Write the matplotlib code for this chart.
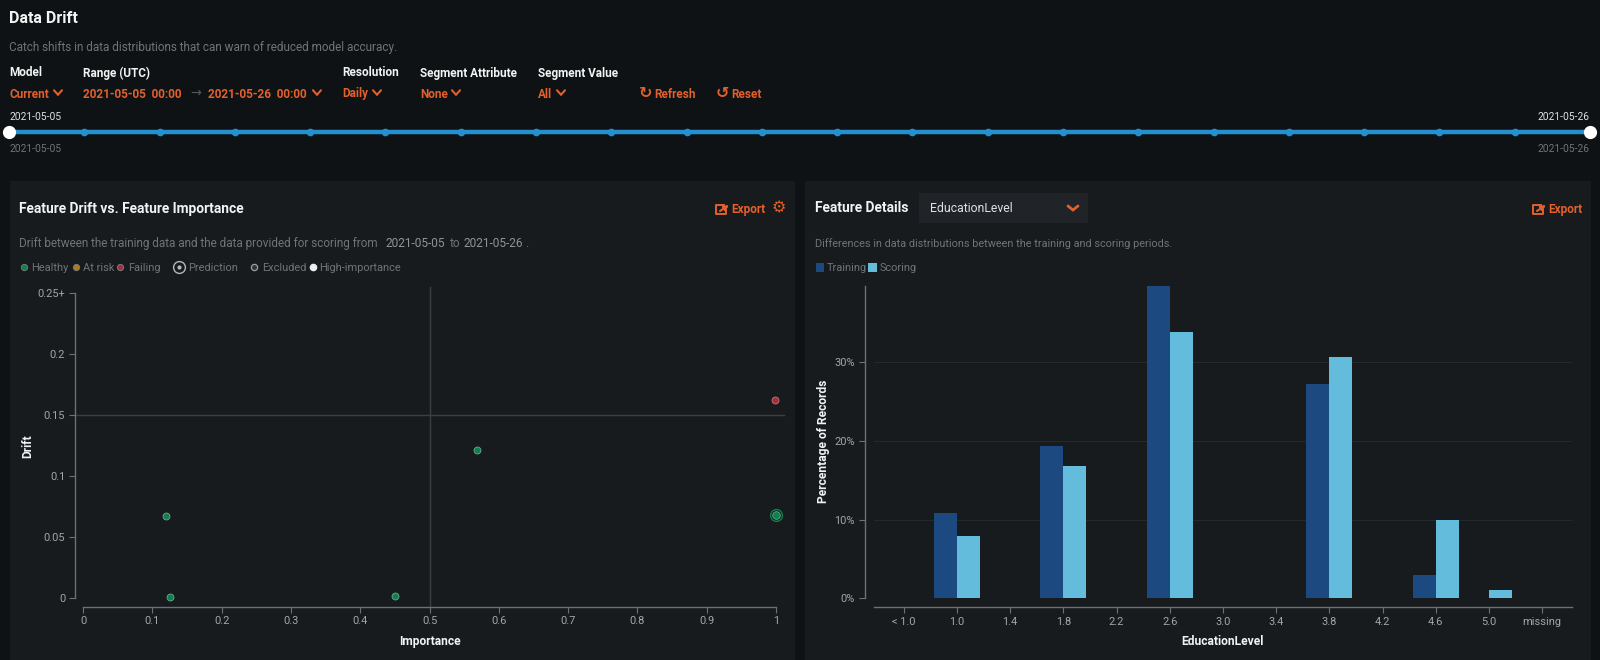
import matplotlib
matplotlib.use('Agg')
import matplotlib.pyplot as plt
from matplotlib.patches import Rectangle

plt.rcParams['font.family'] = ['Roboto', 'DejaVu Sans']

# ---- data ----
dates = ['2021-05-%02d' % d for d in range(5, 27)]
importance = [0.12, 0.125, 0.45, 0.568, 0.998, 1.0]
drift = [0.067, 0.0005, 0.002, 0.121, 0.162, 0.068]
status = ['h', 'h', 'h', 'h', 'f', 'p']
drift_threshold = 0.15
importance_threshold = 0.5
x_ticks = [0, .1, .2, .3, .4, .5, .6, .7, .8, .9, 1]
x_tick_labels = ['0', '0.1', '0.2', '0.3', '0.4', '0.5', '0.6', '0.7', '0.8', '0.9', '1']
y_ticks = [0, .05, .1, .15, .2, .25]
y_tick_labels = ['0', '0.05', '0.1', '0.15', '0.2', '0.25+']
bins = ['< 1.0', '1.0', '1.4', '1.8', '2.2', '2.6', '3.0', '3.4', '3.8', '4.2', '4.6', '5.0', 'missing']
training = [0, 10.8, 0, 19.4, 0, 39.8, 0, 0, 27.2, 0, 3.0, 0, 0]
scoring = [0, 7.9, 0, 16.8, 0, 33.9, 0, 0, 30.7, 0, 10.0, 1.0, 0]
pct_ticks = [0, 10, 20, 30]

# ---- colours ----
PAGE = '#0e1214'
PANEL = '#171b1e'
ORANGE = '#e2602c'
WHITE = '#f2f3f3'
MUTED = '#6f7478'
TICK = '#a3a6a8'
AXIS = '#6d7174'
GREEN = '#0f7f4e'
RED = '#a52f38'
AMBER = '#a97f17'
NAVY = '#1c4a80'
SKY = '#63bcdc'
BLUE = '#2490d0'

W, H = 1600, 660
fig = plt.figure(figsize=(16, 6.6), dpi=100, facecolor=PAGE)

bg = fig.add_axes([0, 0, 1, 1], zorder=0)
bg.set_xlim(0, W); bg.set_ylim(H, 0); bg.axis('off')
top = fig.add_axes([0, 0, 1, 1], zorder=5)
top.set_xlim(0, W); top.set_ylim(H, 0); top.axis('off'); top.patch.set_alpha(0)

bg.add_patch(Rectangle((10, 181), 785, 479, color=PANEL, lw=0))
bg.add_patch(Rectangle((805, 181), 786, 479, color=PANEL, lw=0))


def px(s):
    return s * 0.72


def T(x, y, s, size=11.5, color=WHITE, weight='normal', ha='left', **kw):
    top.text(x, y + 1, s, fontsize=px(size), color=color, fontweight=weight, ha=ha, va='center', **kw)


def chevron(x, y, w=4, h=4.5, c=ORANGE, lw=1.5):
    top.plot([x - w, x, x + w], [y - h / 2, y + h / 2, y - h / 2], color=c, lw=lw,
             solid_capstyle='round', solid_joinstyle='miter')


def export_icon(x, y):
    top.plot([x + 3, x - 5, x - 5, x + 5, x + 5], [y - 3, y - 3, y + 6, y + 6, y + 2], color=ORANGE, lw=1.4)
    top.annotate('', xy=(x + 8, y - 3), xytext=(x - 1, y + 3),
                 arrowprops=dict(arrowstyle='-|>', color=ORANGE, lw=1.5, mutation_scale=7,
                                 shrinkA=0, shrinkB=0))


# header
T(9, 17.5, 'Data Drift', 16, weight='bold')
T(9, 47, 'Catch shifts in data distributions that can warn of reduced model accuracy.', 11.8, MUTED)
for x, s in [(9, 'Model'), (83, 'Range (UTC)'), (342, 'Resolution'), (420, 'Segment Attribute'), (538, 'Segment Value')]:
    T(x, 72, s, 11.8, weight='bold')
for x, s in [(9, 'Current'), (83, '2021-05-05  00:00'), (208, '2021-05-26  00:00'),
             (342, 'Daily'), (420, 'None'), (538, 'All')]:
    T(x, 93, s, 11.8, ORANGE, 'bold')
for x in [58, 317, 377, 456, 561]:
    chevron(x, 92.5)
T(196, 92.5, '→', 13, '#555a5e', ha='center', family='DejaVu Sans')
T(645, 92.5, '↻', 16, ORANGE, 'bold', ha='center', family='DejaVu Sans')
T(654, 93, 'Refresh', 11.8, ORANGE, 'bold')
T(722, 92.5, '↺', 16, ORANGE, 'bold', ha='center', family='DejaVu Sans')
T(731, 93, 'Reset', 11.8, ORANGE, 'bold')

# timeline
n = len(dates)
tl_x = [9 + i * (1590 - 9) / (n - 1) for i in range(n)]
top.plot(tl_x, [131.6] * n, color=BLUE, lw=3.2, solid_capstyle='butt', zorder=2)
top.plot(tl_x[1:-1], [131.6] * (n - 2), 'o', color=BLUE, ms=5.5, mew=0, zorder=3)
top.plot([tl_x[0], tl_x[-1]], [131.6] * 2, 'o', color='white', ms=9.5, mew=0, zorder=4)
T(9, 116, dates[0], 10.3, '#dfe1e2')
T(1590, 116, dates[-1], 10.3, '#dfe1e2', ha='right')
T(9, 148, dates[0], 10.3, MUTED)
T(1590, 148, dates[-1], 10.3, MUTED, ha='right')

# left panel chrome
T(19, 207.5, 'Feature Drift vs. Feature Importance', 13.7, weight='bold')
export_icon(721, 208)
T(731, 208, 'Export', 11.8, ORANGE, 'bold')
T(779, 207, '⚙', 16, ORANGE, 'bold', ha='center', family='DejaVu Sans')
T(19, 242.5, 'Drift between the training data and the data provided for scoring from', 11.7, MUTED)
T(386, 242.5, '2021-05-05', 11.85, '#8f9396')
T(450, 242.5, 'to', 11.85, MUTED)
T(464, 242.5, '2021-05-26', 11.85, '#8f9396')
T(525, 242.5, '.', 11.85, MUTED)

lx = [(23.5, GREEN, 'Healthy', 31.5), (75.5, AMBER, 'At risk', 83), (119.5, RED, 'Failing', 128)]
for x, c, s, tx in lx:
    top.plot([x], [267], 'o', color=c, ms=4.5, mew=0.7, mec='#777b7e')
    T(tx, 267, s, 11, MUTED)
top.plot([178.5], [267], 'o', mfc='none', mec='#b5b7b9', ms=8.5, mew=1.0)
top.plot([178.5], [267], 'o', color='#b5b7b9', ms=3, mew=0)
T(188, 267, 'Prediction', 11, MUTED)
top.plot([254], [267], 'o', color='#30343a', mec='#9a9ea1', ms=4.5, mew=0.9)
T(262, 267, 'Excluded', 11, MUTED)
top.plot([312.5], [267], 'o', color='#eeeeee', ms=5.5, mew=0)
T(319.5, 267, 'High-importance', 11, MUTED)

# right panel chrome
T(815, 207.5, 'Feature Details', 13.7, weight='bold')
top.add_patch(Rectangle((919, 193), 169, 30, color='#202428', lw=0))
T(930, 208, 'EducationLevel', 12.2, '#dfe1e2')
chevron(1073, 208, w=5, h=4, lw=2)
export_icon(1538, 208)
T(1548, 208, 'Export', 11.8, ORANGE, 'bold')
T(815, 242.5, 'Differences in data distributions between the training and scoring periods.', 10.9, MUTED)
top.add_patch(Rectangle((815.5, 263), 8.5, 8.5, color=NAVY, lw=0))
T(827, 267, 'Training', 11, MUTED)
top.add_patch(Rectangle((868, 263), 8.5, 8.5, color=SKY, lw=0))
T(880, 267, 'Scoring', 11, MUTED)


def axes_px(x0, x1, ytop, ybot):
    return fig.add_axes([x0 / W, 1 - ybot / H, (x1 - x0) / W, (ybot - ytop) / H], zorder=3, facecolor='none')


def style(ax):
    for s in ['top', 'right']:
        ax.spines[s].set_visible(False)
    for s in ['left', 'bottom']:
        ax.spines[s].set_color(AXIS)
        ax.spines[s].set_linewidth(1.0)
    ax.tick_params(colors=TICK, color=AXIS, labelsize=px(11), length=4, width=0.8, pad=3)
    for lab in ax.get_xticklabels() + ax.get_yticklabels():
        lab.set_color(TICK)


# scatter
ax = axes_px(83.2, 776, 293, 598)
ax.set_xlim(0, 1); ax.set_ylim(0, 0.25)
ax.set_xticks(x_ticks, x_tick_labels); ax.set_yticks(y_ticks, y_tick_labels)
style(ax)
ax.spines['left'].set_position(('outward', 6))
ax.spines['bottom'].set_position(('outward', 6.2))
ax.plot([-0.012, 1.012], [drift_threshold] * 2, color='#3b3f42', lw=1, clip_on=False, zorder=1)
ax.plot([importance_threshold] * 2, [-0.0066, 0.255], color='#3b3f42', lw=1, clip_on=False, zorder=1)
col = {'h': GREEN, 'f': RED, 'p': GREEN}
for xv, yv, st in zip(importance, drift, status):
    if st == 'p':
        ax.plot([xv], [yv], 'o', mfc='none', mec=GREEN, ms=8.5, mew=1.0, clip_on=False, zorder=4)
        ax.plot([xv], [yv], 'o', color=GREEN, ms=5.5, mew=0.5, mec='#6fb597', clip_on=False, zorder=4)
    else:
        ax.plot([xv], [yv], 'o', color=col[st], ms=5.0, mew=0.6, mec='#6fa68d' if st == 'h' else '#c0757f',
                clip_on=False, zorder=4)
ax.set_xlabel('Importance', fontsize=px(12), color=WHITE, fontweight='bold', labelpad=6)
fig.text(28 / W, 1 - 446 / H, 'Drift', rotation=90, fontsize=px(12), color=WHITE, fontweight='bold',
         ha='center', va='center', zorder=6)

# bars
bx = axes_px(873.7, 1571.7, 285.7, 598.3)
step = 53.2
left_pos = (873 - 903) / step
bx.set_xlim(left_pos, left_pos + (1571 - 873) / step)
bx.set_ylim(0, 39.75)
pos = list(range(len(bins)))
bw = 23 / step
bx.bar([p - bw / 2 for p in pos], training, bw, color=NAVY, zorder=3, lw=0)
bx.bar([p + bw / 2 for p in pos], scoring, bw, color=SKY, zorder=3, lw=0)
bx.set_xticks(pos, bins)
bx.set_yticks(pct_ticks, ['%d%%' % v for v in pct_ticks])
style(bx)
bx.spines['left'].set_position(('outward', 6.5))
bx.spines['bottom'].set_position(('outward', 6.2))
bx.grid(axis='y', color='#26292c', lw=0.8, zorder=0)
bx.set_axisbelow(True)
bx.set_xlabel('EducationLevel', fontsize=px(12), color=WHITE, fontweight='bold', labelpad=6)
fig.text(823.5 / W, 1 - 441 / H, 'Percentage of Records', rotation=90, fontsize=px(12), color=WHITE,
         fontweight='bold', ha='center', va='center', zorder=6)

fig.savefig('out.png', dpi=100, facecolor=PAGE)
